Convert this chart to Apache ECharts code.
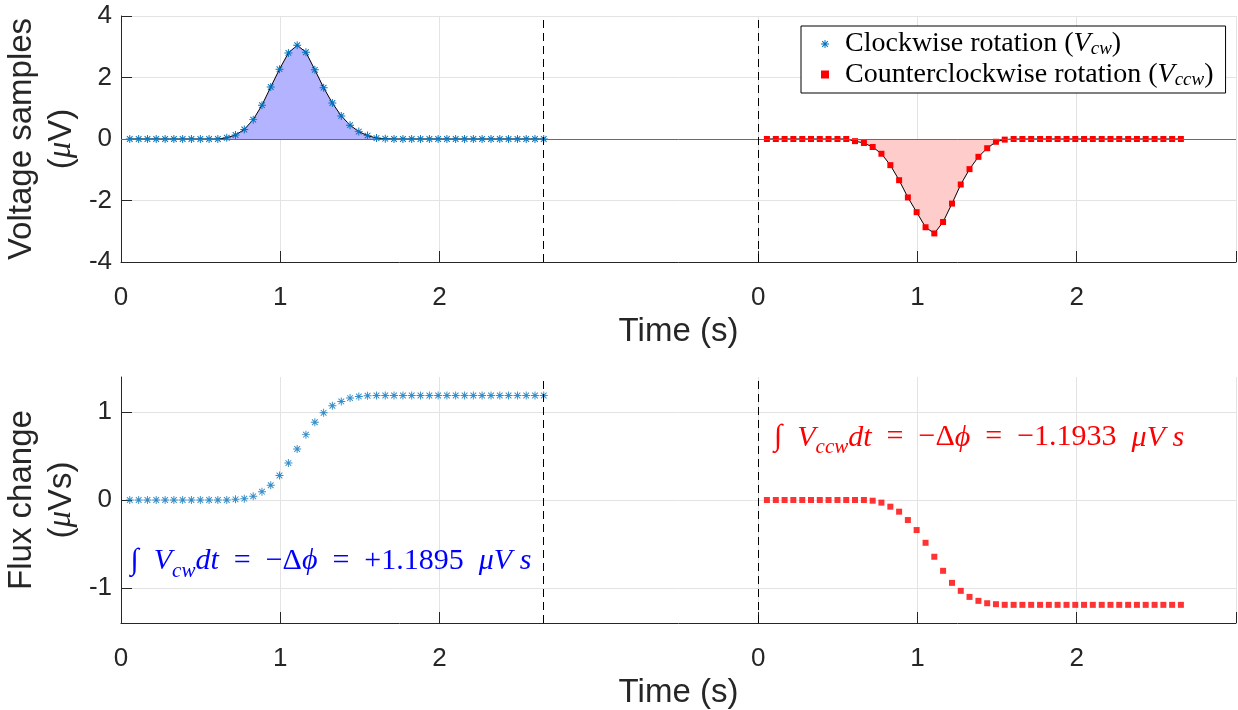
<!DOCTYPE html>
<html>
<head>
<meta charset="utf-8">
<script src="https://cdn.jsdelivr.net/npm/echarts@6/dist/echarts.min.js"></script>
<style>
  html, body { margin: 0; padding: 0; background: #fff; }
  #chart { width: 1238px; height: 710px; }
</style>
</head>
<body>
<div id="chart"></div>
<script>
// Sample times (s) shared by both rotations
const timeSec = [
  0.055, 0.111, 0.166, 0.221, 0.277, 0.332, 0.387, 0.442, 0.498, 0.553,
  0.608, 0.664, 0.719, 0.774, 0.830, 0.885, 0.940, 0.995, 1.051, 1.106,
  1.161, 1.217, 1.272, 1.327, 1.383, 1.438, 1.493, 1.548, 1.604, 1.659,
  1.714, 1.770, 1.825, 1.880, 1.936, 1.991, 2.046, 2.101, 2.157, 2.212,
  2.267, 2.323, 2.378, 2.433, 2.489, 2.544, 2.599, 2.654
];
// The counterclockwise run is drawn on the same axis, shifted right by this much
const ccwOffset = 4;

// Voltage samples (µV)
const voltCw = [
  0, 0, 0, 0, 0, 0, 0, 0, 0, 0,
  0, 0.04, 0.13, 0.31, 0.63, 1.10, 1.69, 2.27, 2.80, 3.05,
  2.82, 2.25, 1.67, 1.17, 0.75, 0.45, 0.24, 0.11, 0.03, 0.01,
  0, 0, 0, 0, 0, 0, 0, 0, 0, 0,
  0, 0, 0, 0, 0, 0, 0, 0
];
const voltCcw = [
  0, 0, 0, 0, 0, 0, 0, 0, 0, 0,
  -0.07, -0.13, -0.26, -0.48, -0.85, -1.34, -1.90, -2.38, -2.87, -3.07,
  -2.70, -2.10, -1.48, -0.98, -0.58, -0.30, -0.09, -0.02, 0, 0,
  0, 0, 0, 0, 0, 0, 0, 0, 0, 0,
  0, 0, 0, 0, 0, 0, 0, 0
];

// Accumulated flux change (µVs)
const fluxCw = [
  0, 0, 0, 0, 0, 0, 0, 0, 0, 0,
  0, 0, 0.008, 0.015, 0.042, 0.095, 0.168, 0.279, 0.420, 0.580,
  0.744, 0.885, 0.992, 1.073, 1.122, 1.160, 1.179, 1.187, 1.1895, 1.1895,
  1.1895, 1.1895, 1.1895, 1.1895, 1.1895, 1.1895, 1.1895, 1.1895, 1.1895, 1.1895,
  1.1895, 1.1895, 1.1895, 1.1895, 1.1895, 1.1895, 1.1895, 1.1895
];
const fluxCcw = [
  0, 0, 0, 0, 0, 0, 0, 0, 0, 0,
  0, 0, -0.008, -0.030, -0.076, -0.133, -0.228, -0.342, -0.487, -0.646,
  -0.806, -0.943, -1.034, -1.103, -1.148, -1.175, -1.186, -1.193, -1.1933, -1.1933,
  -1.1933, -1.1933, -1.1933, -1.1933, -1.1933, -1.1933, -1.1933, -1.1933, -1.1933, -1.1933,
  -1.1933, -1.1933, -1.1933, -1.1933, -1.1933, -1.1933, -1.1933, -1.1933
];

// Axis ticks
const timeTicks = [0, 1, 2];
const voltRange = [-4, 4];
const voltStep = 2;
const fluxRange = [-1.4, 1.4];
const fluxTicks = [-1, 0, 1];

const SANS = '"Liberation Sans", Arial, Helvetica, sans-serif';
const SERIF = '"Liberation Serif", "Times New Roman", serif';
const INK = '#262626';
const GRID_LINE = '#e3e3e3';
const CW_BLUE = '#0072BD';
const CCW_RED = '#ff0000';
const EN = '\u2002';

const asterisk = 'path://M-0.6,-5L0.6,-5L0.6,5L-0.6,5Z' +
  'M-5,-0.6L5,-0.6L5,0.6L-5,0.6Z' +
  'M-3.12,-3.96L3.96,3.12L3.12,3.96L-3.96,-3.12Z' +
  'M-3.96,3.12L3.12,-3.96L3.96,-3.12L-3.12,3.96Z';

const lastT = timeSec[timeSec.length - 1];
const tickVals = timeTicks.concat(timeTicks.map(v => v + ccwOffset), [ccwOffset + 3]);
const labelVals = timeTicks.concat(timeTicks.map(v => v + ccwOffset));

function pairs(values, shift) {
  return timeSec.map((t, i) => [+(t + shift).toFixed(4), values[i]]);
}

function xAxisFor(gridIndex) {
  return {
    type: 'value', gridIndex, min: 0, max: ccwOffset + 3,
    name: 'Time (s)', nameLocation: 'middle', nameGap: 53,
    nameTextStyle: { fontFamily: SANS, fontSize: 33, color: INK },
    axisLine: { show: true, onZero: false, lineStyle: { color: INK, width: 1 } },
    axisTick: { show: true, inside: true, length: 11, customValues: tickVals, lineStyle: { color: INK } },
    axisLabel: {
      customValues: labelVals, margin: 23, fontFamily: SANS, fontSize: 26, color: INK,
      formatter: v => String(v >= ccwOffset ? v - ccwOffset : v)
    },
    splitLine: { show: true, lineStyle: { color: GRID_LINE, width: 1 } }
  };
}

function yName(main, unit) {
  return '{n|' + main + '}\n{n|(}{m|\u03BC}{n|' + unit + ')}';
}
const yNameStyle = {
  rich: {
    n: { fontFamily: SANS, fontSize: 33, color: INK, lineHeight: 40 },
    m: { fontFamily: SERIF, fontStyle: 'italic', fontSize: 33, color: INK, lineHeight: 40 }
  }
};

function mathRich(color, size) {
  return {
    r: { fontFamily: SERIF, fontSize: size, color, lineHeight: 40 },
    i: { fontFamily: SERIF, fontStyle: 'italic', fontSize: size, color, lineHeight: 40 },
    s: { fontFamily: SERIF, fontStyle: 'italic', fontSize: Math.round(size * 0.7), color,
         verticalAlign: 'bottom', lineHeight: Math.round(size * 0.6) }
  };
}

function integralText(sub, total) {
  const sign = total >= 0 ? '+' : '\u2212';
  return '{r|\u222B' + EN + '}{i|V}{s|' + sub + '}{i|dt}{r|' + EN + '=' + EN + '\u2212\u0394}{i|\u03D5}{r|' +
    EN + '=' + EN + sign + Math.abs(total).toFixed(4) + EN + '}{i|\u03BCV s}';
}

const chart = echarts.init(document.getElementById('chart'), null, { renderer: 'canvas' });

chart.setOption({
  animation: false,
  backgroundColor: '#fff',
  grid: [
    { left: 121, right: 2, top: 16, height: 246, outerBoundsMode: 'none' },
    { left: 121, right: 2, top: 377, height: 246, outerBoundsMode: 'none' }
  ],
  legend: {
    orient: 'vertical', left: 801, top: 26,
    padding: [4, 12, 4, 20],
    backgroundColor: '#fff', borderColor: '#000', borderWidth: 1,
    itemWidth: 8, itemHeight: 8, itemGap: 2,
    selectedMode: false,
    data: [
      { name: 'cw', icon: asterisk },
      { name: 'ccw', icon: 'rect' }
    ],
    formatter: n => n === 'cw'
      ? '{t|Clockwise rotation (}{v|V}{s|cw}{t|)}'
      : '{t|Counterclockwise rotation (}{v|V}{s|ccw}{t|)}',
    textStyle: {
      padding: [0, 0, 0, 11],
      rich: {
        t: { fontFamily: SERIF, fontSize: 28, color: '#000', lineHeight: 29 },
        v: { fontFamily: SERIF, fontStyle: 'italic', fontSize: 28, color: '#000', lineHeight: 29 },
        s: { fontFamily: SERIF, fontStyle: 'italic', fontSize: 19, color: '#000',
             verticalAlign: 'bottom', lineHeight: 14 }
      }
    }
  },
  xAxis: [xAxisFor(0), xAxisFor(1)],
  yAxis: [
    {
      type: 'value', gridIndex: 0, min: voltRange[0], max: voltRange[1], interval: voltStep,
      name: yName('Voltage samples', 'V'),
      nameLocation: 'middle', nameRotate: 90, nameGap: 34,
      nameTextStyle: yNameStyle,
      axisLine: { show: true, onZero: false, lineStyle: { color: INK, width: 1 } },
      axisTick: { show: true, inside: true, length: 11, lineStyle: { color: INK } },
      axisLabel: { margin: 9, fontFamily: SANS, fontSize: 26, color: INK },
      splitLine: { show: true, lineStyle: { color: GRID_LINE, width: 1 } }
    },
    {
      type: 'value', gridIndex: 1, min: fluxRange[0], max: fluxRange[1],
      name: yName('Flux change', 'Vs'),
      nameLocation: 'middle', nameRotate: 90, nameGap: 34,
      nameTextStyle: yNameStyle,
      axisLine: { show: true, onZero: false, lineStyle: { color: INK, width: 1 } },
      axisTick: { show: true, inside: true, length: 11, customValues: fluxTicks, lineStyle: { color: INK } },
      axisLabel: { customValues: fluxTicks, margin: 9, fontFamily: SANS, fontSize: 26, color: INK },
      splitLine: { show: true, lineStyle: { color: GRID_LINE, width: 1 } }
    }
  ],
  series: [
    {
      name: 'cw', type: 'line', xAxisIndex: 0, yAxisIndex: 0,
      data: pairs(voltCw, 0),
      symbol: asterisk, symbolSize: 8,
      itemStyle: { color: CW_BLUE },
      lineStyle: { color: '#000', width: 1 },
      areaStyle: { color: '#b3b3ff', opacity: 1, origin: 0 },
      emphasis: { disabled: true },
      z: 3,
      markLine: {
        symbol: 'none', silent: true, label: { show: false },
        emphasis: { disabled: true },
        data: [
          { yAxis: 0, lineStyle: { color: '#6a6a6a', type: 'solid', width: 1 } },
          { xAxis: lastT, lineStyle: { color: '#000', type: [8, 5], width: 1 } },
          { xAxis: ccwOffset, lineStyle: { color: '#000', type: [8, 5], width: 1 } }
        ]
      }
    },
    {
      name: 'ccw', type: 'line', xAxisIndex: 0, yAxisIndex: 0,
      data: pairs(voltCcw, ccwOffset),
      symbol: 'rect', symbolSize: 6,
      itemStyle: { color: CCW_RED },
      lineStyle: { color: '#000', width: 1 },
      areaStyle: { color: '#ffcccc', opacity: 1, origin: 0 },
      emphasis: { disabled: true },
      z: 3
    },
    {
      name: 'cwFlux', type: 'scatter', xAxisIndex: 1, yAxisIndex: 1,
      data: pairs(fluxCw, 0),
      symbol: asterisk, symbolSize: 8,
      itemStyle: { color: CW_BLUE },
      emphasis: { disabled: true },
      markLine: {
        symbol: 'none', silent: true, label: { show: false },
        lineStyle: { color: '#000', type: [8, 5], width: 1 },
        emphasis: { disabled: true },
        data: [{ xAxis: lastT }, { xAxis: ccwOffset }]
      },
      markPoint: {
        symbol: 'rect', symbolSize: 0, silent: true,
        data: [{
          coord: [0.06, -0.70],
          label: {
            show: true, position: 'right', distance: 0,
            formatter: integralText('cw', fluxCw[fluxCw.length - 1]),
            rich: mathRich('#0000ff', 30)
          }
        }]
      }
    },
    {
      name: 'ccwFlux', type: 'scatter', xAxisIndex: 1, yAxisIndex: 1,
      data: pairs(fluxCcw, ccwOffset),
      symbol: 'rect', symbolSize: 6,
      itemStyle: { color: CCW_RED },
      emphasis: { disabled: true },
      markPoint: {
        symbol: 'rect', symbolSize: 0, silent: true,
        data: [{
          coord: [ccwOffset + 0.10, 0.71],
          label: {
            show: true, position: 'right', distance: 0,
            formatter: integralText('ccw', fluxCcw[fluxCcw.length - 1]),
            rich: mathRich('#ff0000', 30)
          }
        }]
      }
    }
  ]
});
</script>
</body>
</html>
